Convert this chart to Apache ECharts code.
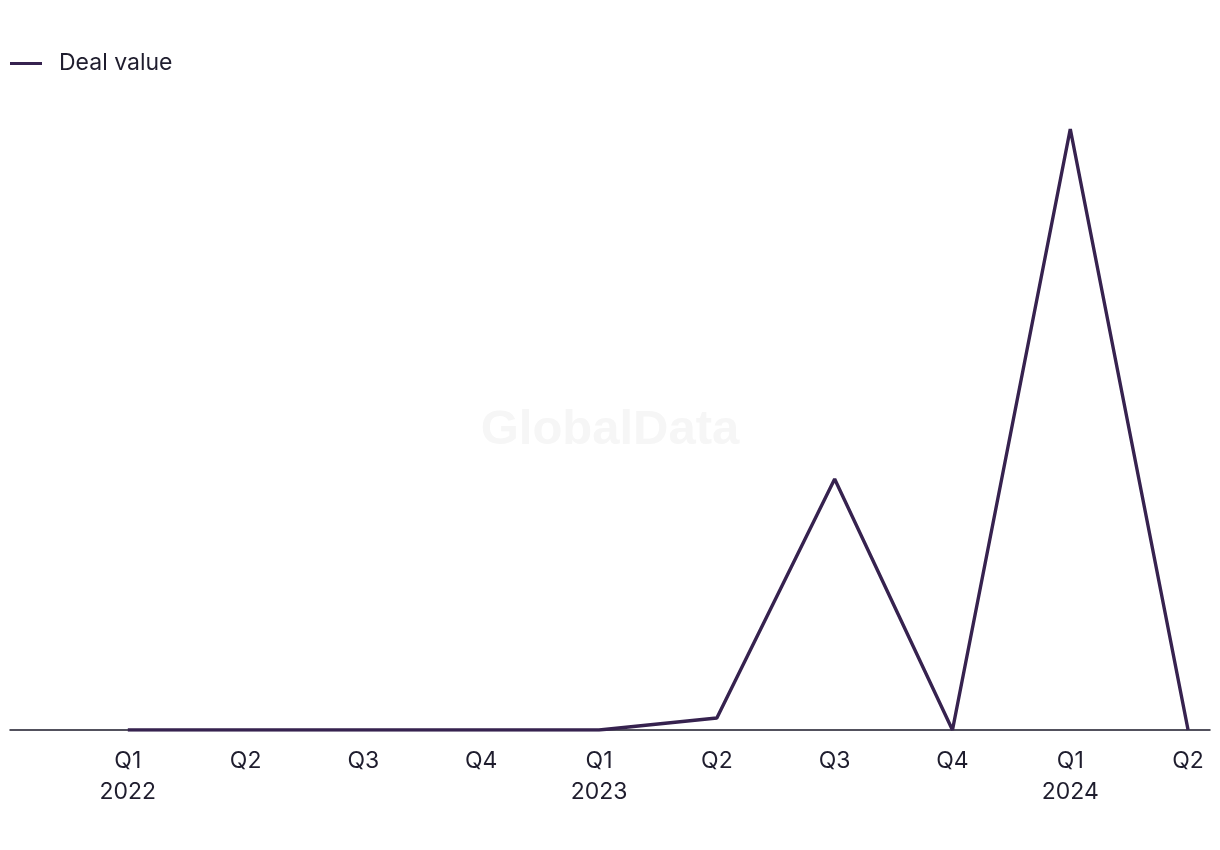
<!DOCTYPE html>
<html>
<head>
<meta charset="utf-8">
<script src="https://cdn.jsdelivr.net/npm/echarts@6/dist/echarts.min.js"></script>
<style>
html,body{margin:0;padding:0;background:#fff;}
#chart{width:1220px;height:850px;}
</style>
</head>
<body>
<div id="chart"></div>
<script>
const quarters = ['Q1','Q2','Q3','Q4','Q1','Q2','Q3','Q4','Q1','Q2'];
const years = ['2022','','','','2023','','','','2024',''];
const dealValue = [0, 0, 0, 0, 0, 12, 251, 0, 601, 0];

const chart = echarts.init(document.getElementById('chart'));
const txt = '#1f1d2e';
chart.setOption({
  animation: false,
  backgroundColor: '#ffffff',
  graphic: [{
    type: 'text', left: 'center', top: 406,
    style: { text: 'GlobalData', font: 'bold 49px "Liberation Sans", Arial, sans-serif', fill: '#f6f6f6' },
    z: 0
  }],
  legend: {
    left: 5, top: 47,
    itemWidth: 32, itemHeight: 3, itemGap: 20,
    icon: 'rect',
    textStyle: { fontSize: 23, color: txt, fontFamily: 'Inter, "Noto Sans", sans-serif', padding: [0,0,0,12] },
    data: ['Deal value']
  },
  grid: { left: 10, right: 10, top: 129, bottom: 120, containLabel: false },
  xAxis: {
    type: 'value', min: -1, max: 9.186, interval: 1,
    splitLine: { show: false },
    axisTick: { show: false },
    axisLine: { show: true, onZero: false, lineStyle: { color: '#1a1829', width: 1.5 } },
    axisLabel: {
      showMinLabel: false, showMaxLabel: false,
      margin: 16, lineHeight: 31,
      fontSize: 23, color: txt, fontFamily: 'Inter, "Noto Sans", sans-serif',
      formatter: function (v) {
        const i = Math.round(v);
        if (Math.abs(v - i) > 1e-6 || i < 0 || i >= quarters.length) return '';
        return years[i] ? quarters[i] + '\n' + years[i] : quarters[i];
      }
    }
  },
  yAxis: {
    type: 'value', min: 0, max: 601,
    show: false, splitLine: { show: false }
  },
  series: [{
    name: 'Deal value', type: 'line',
    data: dealValue.map((v, i) => [i, v]),
    symbol: 'none',
    lineStyle: { color: '#36224f', width: 3.4 },
    itemStyle: { color: '#36224f' },
    z: 3
  }]
});
</script>
</body>
</html>
